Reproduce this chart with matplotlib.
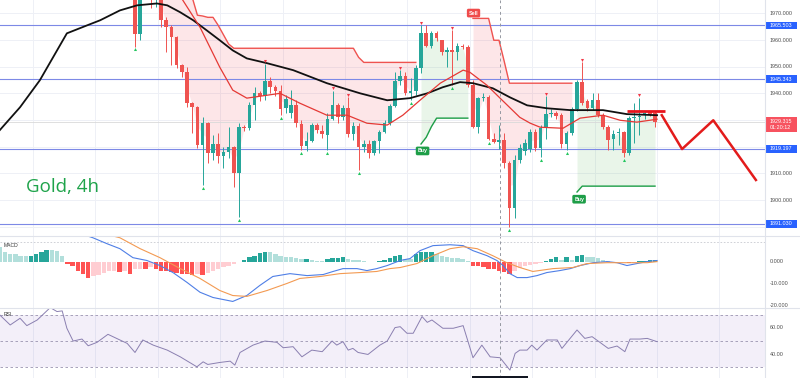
import matplotlib
matplotlib.use("Agg")
import matplotlib.pyplot as plt
import numpy as np
from matplotlib.transforms import blended_transform_factory
from matplotlib.patches import Rectangle
from matplotlib.lines import Line2D

# ---------------- DATA ----------------
# candles, index 0 .. 100 (4h bars)
opens = [1976, 1962.1, 1978, 1981, 1977, 1979, 1967.4, 1964.8, 1961.0, 1950.5,
         1947.9, 1936.3, 1934.8, 1920.6, 1928.8, 1917.6, 1921.0, 1916.4, 1917.9, 1919.8,
         1910.1, 1927.3, 1926.9, 1935.5, 1940.0, 1938.9, 1944.5, 1942.3, 1940.8, 1934.5,
         1932.6, 1935.5, 1928.4, 1920.2, 1922.1, 1928.1, 1925.8, 1924.3, 1930.3, 1935.5,
         1931.0, 1934.4, 1924.7, 1927.7, 1919.8, 1921.0, 1917.6, 1922.1, 1925.4, 1928.8,
         1935.2, 1944.5, 1946.4, 1940.0, 1940.8, 1949.4, 1962.5, 1957.6, 1962.5, 1959.9,
         1955.4, 1956.1, 1955.4, 1957.6, 1957.3, 1943.0, 1927.3, 1938.2, 1938.5, 1922.8,
         1921.7, 1922.4, 1913.8, 1897.0, 1915.0, 1918.5, 1919.1, 1925.4, 1919.5, 1926.9,
         1932.2, 1932.6, 1931.8, 1920.9, 1925.1, 1934.0, 1944.2, 1937.0, 1934.4, 1937.4,
         1931.8, 1927.3, 1922.8, 1925.1, 1925.4, 1917.6, 1930.7, 1931.0, 1931.8, 1932.6,
         1932.6]
highs = [1982, 1980, 1984, 1984, 1983, 1981, 1968.5, 1965.5, 1961.5, 1951.0,
         1949.8, 1936.8, 1935.2, 1931.0, 1929.2, 1924.3, 1925.1, 1919.8, 1927.3, 1920.2,
         1928.8, 1928.0, 1936.7, 1942.3, 1941.0, 1951.0, 1946.0, 1943.0, 1943.0, 1939.3,
         1941.2, 1937.4, 1930.0, 1925.4, 1928.8, 1929.0, 1928.0, 1932.6, 1941.0, 1936.5,
         1935.5, 1938.5, 1929.2, 1928.8, 1922.5, 1922.5, 1922.5, 1926.2, 1930.0, 1936.0,
         1947.9, 1948.6, 1947.9, 1945.7, 1950.5, 1965.5, 1965.5, 1963.5, 1963.5, 1960.0,
         1957.3, 1963.6, 1958.8, 1958.5, 1958.0, 1944.9, 1938.5, 1940.0, 1939.3, 1925.1,
         1928.0, 1925.1, 1914.5, 1916.8, 1921.0, 1923.0, 1926.5, 1926.5, 1928.0, 1938.9,
         1934.0, 1933.5, 1932.5, 1926.0, 1935.0, 1944.9, 1951.6, 1938.0, 1940.0, 1940.0,
         1932.5, 1928.0, 1926.2, 1926.9, 1926.0, 1931.5, 1936.3, 1938.2, 1933.5, 1933.5,
         1933.3]
lows = [1957.5, 1960.0, 1976.0, 1972.0, 1972.2, 1965.0, 1955.4, 1950.5, 1949.4, 1946.0,
        1934.8, 1925.1, 1919.4, 1905.6, 1913.8, 1915.0, 1913.8, 1912.0, 1915.7, 1904.8,
        1893.6, 1926.0, 1926.2, 1930.0, 1937.0, 1937.4, 1940.0, 1939.0, 1931.8, 1932.6,
        1930.7, 1927.3, 1918.7, 1918.3, 1921.7, 1925.0, 1923.2, 1918.7, 1930.0, 1929.0,
        1930.0, 1923.6, 1922.4, 1911.2, 1918.0, 1915.7, 1916.8, 1917.6, 1925.0, 1928.0,
        1934.8, 1943.0, 1939.3, 1937.4, 1939.3, 1947.5, 1957.3, 1957.0, 1959.5, 1954.3,
        1949.8, 1943.0, 1952.4, 1956.5, 1942.3, 1926.9, 1925.1, 1937.0, 1922.4, 1921.3,
        1919.0, 1912.0, 1889.9, 1893.2, 1914.0, 1917.0, 1918.0, 1918.5, 1916.0, 1923.0,
        1931.0, 1930.5, 1919.5, 1918.7, 1924.5, 1933.5, 1935.5, 1933.5, 1933.7, 1931.0,
        1926.5, 1918.7, 1918.7, 1920.6, 1916.1, 1916.8, 1921.3, 1924.3, 1930.5, 1931.5,
        1927.3]
closes = [1962.1, 1978, 1981, 1977, 1979, 1967.4, 1964.8, 1961.0, 1950.5, 1947.9,
          1936.3, 1934.8, 1920.6, 1928.8, 1917.6, 1921.0, 1916.4, 1917.9, 1919.8, 1910.1,
          1927.3, 1926.9, 1935.5, 1940.0, 1938.9, 1944.5, 1942.3, 1940.8, 1934.0, 1937.8,
          1935.5, 1928.8, 1920.2, 1922.1, 1928.1, 1926.2, 1924.7, 1930.3, 1935.5, 1931.0,
          1934.4, 1924.7, 1927.7, 1919.8, 1921.0, 1917.6, 1922.1, 1925.4, 1928.8, 1935.2,
          1944.5, 1946.4, 1940.0, 1940.8, 1949.4, 1962.5, 1957.6, 1962.5, 1960.6, 1955.4,
          1956.1, 1955.4, 1957.6, 1957.3, 1943.0, 1927.3, 1938.2, 1938.5, 1922.8, 1921.7,
          1922.4, 1913.8, 1897.0, 1915.0, 1919.4, 1921.3, 1925.4, 1919.5, 1926.9, 1932.2,
          1932.6, 1931.5, 1920.9, 1925.1, 1934.0, 1944.2, 1936.3, 1934.4, 1937.4, 1931.8,
          1927.3, 1922.4, 1924.7, 1925.4, 1917.6, 1930.7, 1931.0, 1931.4, 1932.6, 1932.4,
          1929.3]

# fractal markers (candle indices)
frac_high_idx = [25, 38, 41, 51, 55, 61, 79, 86, 97]
frac_low_idx = [0, 13, 20, 28, 32, 37, 43, 53, 61, 68, 72, 78, 83, 94]

# slow moving average (black) : (bar index, price)
ma_slow_x = [-26, -22.1, -18.3, -13.1, -9.2, -6.7, -2.9, 0.4, 4.2, 6.2, 8.7, 11.2, 13.8,
             16.3, 18.8, 21.5, 25.4, 30.4, 36.9, 43.3, 48.5, 52.9, 56.2, 59.2, 62.5, 65,
             68.8, 72.1, 75.4, 79.2, 83.7, 90, 94.6, 100.4]
ma_slow_y = [1926.2, 1934.8, 1944.9, 1962.5, 1965.5, 1967.4, 1971.1, 1973.0, 1973.7, 1973.0,
             1970.4, 1967.4, 1963.6, 1959.9, 1956.1, 1953.1, 1951.3, 1948.7, 1943.8, 1940.0,
             1937.4, 1938.2, 1940.0, 1942.3, 1944.2, 1943.8, 1941.9, 1938.5, 1935.5, 1934.4,
             1933.7, 1933.7, 1932.2, 1931.8]
# fast moving average (red)
ma_fast_x = [5, 9.2, 12.5, 16.3, 18.8, 21.5, 24, 27.9, 31.7, 36.9, 40.8, 44.6, 48.5, 51.5,
             54.8, 58.7, 63.1, 64.4, 67.7, 70.2, 74, 76, 77.9, 82.3, 85.6, 90, 93.3, 96.5,
             100.4]
ma_fast_y = [1990, 1974.9, 1964.8, 1949.8, 1941.2, 1938.2, 1938.9, 1940.0, 1936.3, 1931.8,
             1931.8, 1928.8, 1928.1, 1931.8, 1937.4, 1943.8, 1948.7, 1947.9, 1943.0, 1938.2,
             1931.0, 1928.8, 1927.3, 1926.9, 1930.7, 1931.8, 1929.9, 1929.2, 1930.3]

# trend-stop line per candle (sell = above price, buy = below price)
sell1_start = 5
sell1_vals = [1990, 1988, 1985, 1982, 1979, 1977, 1976, 1969.3, 1969.0, 1968.5, 1968.5,
              1965.5, 1962.0, 1958.5] + [1956.9] * 24 + [1953.5] + [1951.6] * 11
buy1_start = 55
buy1_vals = [1921.0, 1923.5, 1927.5] + [1930.7] * 7
sell2_start = 65
sell2_vals = [1968.1] * 4 + [1959.9, 1959.9, 1952.0] + [1943.8] * 13
buy2_start = 85
buy2_vals = [1903.0] + [1905.2] * 15

# support / resistance levels
levels = [1965.503, 1945.343, 1919.197, 1891.030]
price_ticks = [1900, 1910, 1940, 1950, 1960, 1970]
last_price = 1929.315
countdown = "01:20:12"

# drawn projection
resist_x = [94.6, 101.9]
resist_y = [1933.3, 1933.3]
zigzag_x = [101.3, 105.2, 111.2, 119.4]
zigzag_y = [1931.8, 1919.1, 1929.9, 1907.5]

crosshair_x = 70.2

# MACD histogram, bars for index -26 .. 100
macd_hist = [6.5, 4.2, 3.5, 3.5, 2.7, 2.4, 2.7, 3.5, 4.5, 5.5,
             5.3, 5.0, 2.7, -1.0, -2.1, -4.1, -5.6, -7.6, -6.7, -6.1,
             -5.2, -4.5, -4.4, -4.8, -4.1, -5.6, -3.3, -3.2, -3.6, -2.6,
             -3.3, -4.1, -4.5, -4.8, -5.2, -5.6, -5.7, -6.1, -5.6, -6.1,
             -5.2, -4.1, -3.3, -2.6, -1.8, -1.1, -0.3, 0.9, 2.0, 2.7,
             3.8, 4.5, 4.2, 3.5, 2.7, 2.3, 2.0, 1.5, 1.2, 1.3,
             0.8, 0.5, 0.4, 1.2, 1.5, 1.8, 1.9, 1.2, 0.9, 0.6,
             0.3, -0.3, -0.1, 0.5, 0.9, 1.5, 2.7,
             3.0, 1.2, 1.0, 3.5, 4.2, 4.3, 4.4, 3.5, 2.7, 2.3,
             1.8, 1.5, 1.2, 0.5, -1.8, -2.1, -2.6, -3.3, -3.6, -4.1,
             -4.8, -5.6, -4.1, -3.0, -2.1, -1.5, -1.1, -0.6, 0.5, 1.2,
             2.0, 0.9, 2.0, 0.9, 2.7, 2.8, 2.0, 1.9, 1.5, 0.9,
             0.5, -0.3, -0.35, -0.3, -0.8, -0.6, 0.1, 0.3, 0.6, 0.9]
macd_x = [-12, -8.1, -5.4, -2.9, -0.4, 2.3, 4.8, 7.3, 10, 12.5, 15, 18.8, 21.5, 24, 26.5,
          29.8, 33.1, 36.2, 38.1, 40, 42.7, 44.6, 46.5, 48.5, 51, 52.9, 54.8, 57.3, 60.6,
          63.1, 65, 67.7, 69.6, 70.8, 72.1, 73.5, 75.4, 77.3, 79.2, 81.7, 83.7, 85.6, 88.1,
          90.8, 92.7, 94.6, 96.5, 98.5, 100.4]
macd_y = [14, 10.9, 8.2, 5.9, 1.8, 0.5, -1.8, -5.0, -9.5, -14.0, -16.4, -18.2, -15.5, -10.9,
          -6.8, -5.5, -6.4, -5.9, -4.5, -3.2, -3.2, -4.1, -3.2, -1.8, 0.5, 1.4, 5.0, 7.3,
          7.7, 7.3, 5.0, 2.7, 0.5, -1.8, -5.5, -7.3, -7.3, -6.4, -5.0, -4.1, -3.2, -1.8,
          -0.5, 0.0, -0.5, -1.8, -0.9, 0.0, 0.5]
signal_x = [-8, -2.9, 1, 4.8, 8.7, 12.5, 16.3, 18.8, 21.5, 25.4, 29.2, 31.7, 35.6, 39.4,
            43.3, 46.5, 49, 51, 54.2, 57.3, 60.6, 63.1, 65.8, 68.8, 71.5, 74, 76.5, 80.4,
            84.2, 86.9, 90.8, 94.6, 98.5, 100.4]
signal_y = [14, 10.9, 5.9, 1.8, -3.2, -7.7, -13.2, -15.5, -15.9, -13.2, -10.0, -7.7, -6.8,
            -5.5, -5.0, -4.5, -3.2, -2.7, -0.9, 2.7, 5.9, 6.8, 5.9, 2.7, -0.5, -2.7, -4.5,
            -3.2, -2.7, -0.9, -0.5, -0.5, -0.5, 0.0]

# RSI
rsi_x = [-26, -24, -22.1, -20.8, -18.8, -16.3, -15, -14, -13.1, -11.9, -10.2, -9, -7.3,
         -5.2, -2.9, -1.5, 0, 1.5, 3.5, 6.2, 8.7, 11.9, 13.1, 14, 16.3, 18.3, 19.2, 20.2,
         22.7, 25, 27.3, 28.5, 30.4, 32.1, 34, 36, 37.9, 38.8, 40, 41, 41.9, 42.9, 44.8,
         47.1, 48.5, 50, 51, 52.3, 53.5, 55.2, 56.2, 57.1, 59.2, 61.2, 63.1, 65, 66.7,
         68.3, 70.2, 72.1, 73.1, 74, 75.4, 76.3, 77.3, 79.2, 81.2, 82.1, 85, 86.5, 87.9,
         89.4, 91, 92.7, 94.2, 95.2, 97.1, 98.5, 100.4]
rsi_y = [69.8, 62.2, 67.3, 61.7, 66.0, 75.4, 72.4, 72.9, 59.7, 50.0, 51.5, 46.4, 49.0,
         55.1, 50.8, 48.2, 41.3, 50.8, 46.9, 43.1, 38.0, 30.4, 34.2, 32.2, 33.7, 34.7,
         31.7, 41.3, 46.9, 50.0, 49.0, 44.9, 45.7, 38.0, 43.1, 41.9, 50.0, 46.9, 49.5,
         43.1, 44.4, 41.3, 39.8, 46.9, 50.0, 60.2, 60.9, 55.9, 55.9, 68.6, 64.2, 66.0,
         59.7, 59.7, 61.7, 37.3, 46.9, 38.0, 37.3, 27.9, 40.6, 43.1, 43.1, 46.9, 43.1,
         50.8, 50.8, 44.4, 58.4, 52.0, 53.3, 49.0, 44.4, 46.2, 41.9, 51.5, 51.5, 52.0,
         49.5]
rsi_levels = [70, 50, 30]

# ---------------- FIGURE ----------------
W, H = 800, 378
PX1 = 765
fig = plt.figure(figsize=(W / 100, H / 100), dpi=100)
fig.patch.set_facecolor('white')


def rect(x0, y0, x1, y1):
    return [x0 / W, 1 - y1 / H, (x1 - x0) / W, (y1 - y0) / H]


ax = fig.add_axes(rect(0, 0, PX1, 236))
axm = fig.add_axes(rect(0, 236, PX1, 308))
axr = fig.add_axes(rect(0, 308, PX1, 378))

XMIN, XMAX = -25.96, 121.15
for a in (ax, axm, axr):
    a.set_xlim(XMIN, XMAX)
    a.set_xticks([])
    a.set_yticks([])
    for s in a.spines.values():
        s.set_visible(False)
    a.set_facecolor('none')
ax.set_ylim(1886.5, 1975.0)
axm.set_ylim(-21.2, 11.7)
axr.set_ylim(21.9, 75.1)

GRID = '#eef0f6'
grid_x = np.arange(-19.6, 121, 12.0)
for a in (ax, axm, axr):
    for gx in grid_x:
        a.axvline(gx, color=GRID, lw=0.7, zorder=0)
for gy in range(1890, 1975, 10):
    ax.axhline(gy, color=GRID, lw=0.7, zorder=0)

UP, DN = '#26a69a', '#ef5350'
idx = np.arange(len(opens))
O, Hh, L, C = map(np.array, (opens, highs, lows, closes))
mid = (O + C) / 2.0

# trend-stop fills and lines
segments = [(sell1_start, sell1_vals, '#f23645', '#ef5350'),
            (buy1_start, buy1_vals, '#4caf50', '#1e9e48'),
            (sell2_start, sell2_vals, '#f23645', '#ef5350'),
            (buy2_start, buy2_vals, '#4caf50', '#1e9e48')]
for start, vals, fc, lc in segments:
    xs = np.arange(start, start + len(vals))
    ax.fill_between(xs, vals, mid[xs], color=fc, alpha=0.12, lw=0, zorder=1)
    ax.plot(xs, vals, color=lc, lw=1.0, zorder=4)

# support / resistance levels
for lv in levels:
    ax.axhline(lv, color='#7d89e6', lw=0.8, zorder=2)

# current price line
ax.axhline(last_price, color='#d9d9d9', lw=0.6, zorder=1)

# candles
colors = np.where(C >= O, UP, DN)
ax.vlines(idx, L, Hh, colors=colors, lw=0.7, zorder=3)
body_lo = np.minimum(O, C)
body_h = np.maximum(np.abs(C - O), 0.45)
ax.bar(idx, body_h, bottom=body_lo, width=0.66, color=colors, lw=0, zorder=3.5)

# moving averages
ax.plot(ma_slow_x, ma_slow_y, color='#111111', lw=1.3, zorder=5)
ax.plot(ma_fast_x, ma_fast_y, color='#e53935', lw=0.9, zorder=5)

# fractal markers
fh = np.array(frac_high_idx)
fl = np.array(frac_low_idx)
ax.plot(fh, Hh[fh] + 1.0, 'v', color='#f23645', ms=2.2, mew=0, zorder=6)
ax.plot(fl, L[fl] - 1.0, '^', color='#22c55e', ms=2.2, mew=0, zorder=6)

# buy / sell labels
lab_kw = dict(fontsize=3.8, color='white', ha='center', va='center', zorder=7,
              family='Liberation Sans', fontweight='bold')
ax.text(buy1_start + 0.3, buy1_vals[0] - 2.6, 'Buy',
        bbox=dict(boxstyle='round,pad=0.35,rounding_size=0.3', fc='#1e9e48', ec='none'), **lab_kw)
ax.text(buy2_start + 0.4, buy2_vals[0] - 2.7, 'Buy',
        bbox=dict(boxstyle='round,pad=0.35,rounding_size=0.3', fc='#1e9e48', ec='none'), **lab_kw)
ax.text(sell2_start + 0.1, sell2_vals[0] + 2.0, 'Sell',
        bbox=dict(boxstyle='round,pad=0.35,rounding_size=0.3', fc='#ef4b4b', ec='none'), **lab_kw)

# projection drawing
ax.plot(resist_x, resist_y, color='#e8141c', lw=2.0, zorder=8, solid_capstyle='butt')
ax.plot(zigzag_x, zigzag_y, color='#e31b1b', lw=1.8, zorder=8, clip_on=False)

# title
ax.text(-21.0, 1902.9, 'Gold, 4h', color='#1ea34a', fontsize=13.5, family='Open Sans',
        ha='left', va='baseline', zorder=9)

# crosshair
for a in (ax, axm, axr):
    a.axvline(crosshair_x, color='#9598a1', lw=0.7, ls=(0, (3, 3)), zorder=9)

# ---- right price scale ----
TXT = '#4d4d4d'
xoff = 1 + 5 / PX1
bw = 32 / PX1
tr = blended_transform_factory(ax.transAxes, ax.transData)
for p in price_ticks:
    ax.text(xoff, p, f'{p:.3f}', transform=tr, fontsize=3.9, color=TXT,
            family='Liberation Sans', ha='left', va='center', clip_on=False)
ppx = 236 / (1975.0 - 1886.5)
for lv in levels:
    h = 7.5 / ppx
    ax.add_patch(Rectangle((1.0, lv - h / 2), bw, h, transform=tr, fc='#2962ff', ec='none',
                           clip_on=False, zorder=10))
    ax.text(xoff, lv, f'{lv:.3f}', transform=tr, fontsize=3.9, color='white',
            family='Liberation Sans', ha='left', va='center', clip_on=False, zorder=11)
h2 = 15 / ppx
ax.add_patch(Rectangle((1.0, last_price - 1.6 - h2 / 2 + 0.7), bw, h2, transform=tr,
                       fc='#f7525f', ec='none', clip_on=False, zorder=10))
ax.text(xoff, last_price, f'{last_price:.3f}', transform=tr, fontsize=3.9, color='white',
        family='Liberation Sans', ha='left', va='center', clip_on=False, zorder=11)
ax.text(xoff, last_price - 2.1, countdown, transform=tr, fontsize=3.9, color='white',
        family='Liberation Sans', ha='left', va='center', clip_on=False, zorder=11)

# ---- MACD pane ----
hist = np.array(macd_hist)
hx = np.arange(len(hist)) - 26
hcol = []
for k, v in enumerate(hist):
    prev = hist[k - 1] if k > 0 else v
    if v >= 0:
        hcol.append('#26a69a' if v > prev else '#b2dfdb')
    else:
        hcol.append('#ffcdd2' if v > prev else '#ff5252')
axm.bar(hx, hist, width=0.84, color=hcol, lw=0, zorder=2)
axm.plot(macd_x, macd_y, color='#4f7fe6', lw=0.8, zorder=3)
axm.plot(signal_x, signal_y, color='#f39a52', lw=0.8, zorder=3)
axm.axhline(9.0, color='#c8cad0', lw=0.6, ls=(0, (2, 2)), zorder=1)
axm.text(-25.3, 7.2, 'MACD', fontsize=3.6, color='#333333', family='Liberation Sans',
         ha='left', va='center')
trm = blended_transform_factory(axm.transAxes, axm.transData)
for v in (0, -10, -20):
    axm.text(xoff, v, f'{v:.3f}', transform=trm, fontsize=3.9, color=TXT,
             family='Liberation Sans', ha='left', va='center', clip_on=False)

# ---- RSI pane ----
axr.axhspan(rsi_levels[2], rsi_levels[0], color='#7e57c2', alpha=0.09, lw=0, zorder=0)
for lv in rsi_levels:
    axr.axhline(lv, color='#9a93b0', lw=0.6, ls=(0, (3, 3)), zorder=1)
axr.plot(rsi_x, rsi_y, color='#8a7fb0', lw=0.7, zorder=3)
axr.text(-25.3, 70.5, 'RSI', fontsize=3.6, color='#333333', family='Liberation Sans',
         ha='left', va='center')
trr = blended_transform_factory(axr.transAxes, axr.transData)
for v in (60, 40):
    axr.text(xoff, v, f'{v:.2f}', transform=trr, fontsize=3.9, color=TXT,
             family='Liberation Sans', ha='left', va='center', clip_on=False)

# ---- separators ----
SEP = '#e0e3eb'
for yp in (236, 308):
    fig.add_artist(Line2D([0, 1], [1 - yp / H] * 2, transform=fig.transFigure, color=SEP, lw=0.8))
fig.add_artist(Line2D([PX1 / W] * 2, [0, 1], transform=fig.transFigure, color=SEP, lw=0.8))

# time label stub at bottom
fig.add_artist(Rectangle((472 / W, 0), 56 / W, 2.5 / H, transform=fig.transFigure,
                         fc='#131722', ec='none'))

fig.savefig('out.png', dpi=100, facecolor='white')
